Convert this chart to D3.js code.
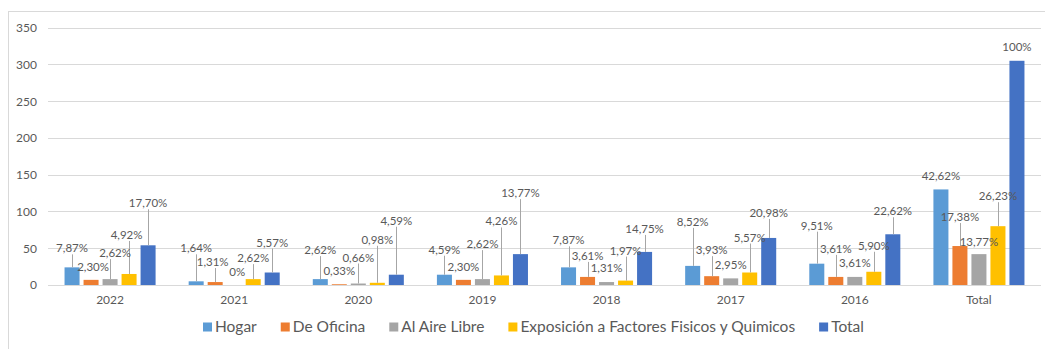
<!DOCTYPE html>
<html>
<head>
<meta charset="utf-8">
<script src="https://cdn.jsdelivr.net/npm/d3@7"></script>
<style>
  html, body { margin: 0; padding: 0; background: #ffffff; }
  svg { display: block; font-family: Lato, "Liberation Sans", sans-serif; }
</style>
</head>
<body>
<svg id="chart" width="1045" height="349"></svg>
<script>
// Accident counts per year and category; the last column is the overall total.
const categories = ["2022", "2021", "2020", "2019", "2018", "2017", "2016", "Total"];
const seriesNames = ["Hogar", "De Oficina", "Al Aire Libre", "Exposición a Factores Fisicos y Quimicos", "Total"];
const hogar       = [24, 5, 8, 14, 24, 26, 29, 130];
const deOficina   = [7, 4, 1, 7, 11, 12, 11, 53];
const alAireLibre = [8, 0, 2, 8, 4, 9, 11, 42];
const exposicion  = [15, 8, 3, 13, 6, 17, 18, 80];
const totalSerie  = [54, 17, 14, 42, 45, 64, 69, 305];
const yTicks = [0, 50, 100, 150, 200, 250, 300, 350];

const seriesValues = [hogar, deOficina, alAireLibre, exposicion, totalSerie];
const colors = ["#5b9bd5", "#ed7d31", "#a5a5a5", "#ffc000", "#4472c4"];

// Callout placement: how far (px) each label sits above its bar, per category/series
const calloutLift = [
  [19, 13, 26, 39, 42],
  [33, 20, 13, 21, 30],
  [29, 13, 26, 43, 54],
  [25, 13, 35, 54, 61],
  [27, 21, 14, 30, 23],
  [44, 26, 13, 35, 25],
  [38, 28, 14, 26, 23],
  [13, 29, 12, 30, 14]
];
// horizontal nudges (px) for a few crowded callouts
const calloutDx = [[0, 2, 5, -2.5, 0], [0, -2.5, 3, 0, 0]];

const grandTotal = totalSerie[totalSerie.length - 1];
function pctLabel(v) {
  const p = v / grandTotal * 100;
  if (p === 0 || p === 100) return p + "%";
  return p.toFixed(2).replace(".", ",") + "%";
}

const svg = d3.select("#chart");
const textColor = "#595959";
const fontStack = "Lato, 'Liberation Sans', sans-serif";

// chart frame
svg.append("rect")
  .attr("x", 8.5).attr("y", 11.5)
  .attr("width", 1045).attr("height", 345)
  .attr("fill", "none").attr("stroke", "#d9d9d9");

const plot = { left: 48, right: 1041, top: 27.7, bottom: 285 };

const y = d3.scaleLinear().domain([0, 350]).range([plot.bottom, plot.top]);
const x0 = d3.scaleBand().domain(categories).range([plot.left, plot.right]).padding(0);
const x1 = d3.scaleBand().domain(d3.range(seriesNames.length))
  .range([0, x0.bandwidth()]).paddingInner(0.21).paddingOuter(0.87);

// gridlines
svg.append("g").selectAll("line").data(yTicks).join("line")
  .attr("x1", plot.left).attr("x2", plot.right)
  .attr("y1", d => Math.round(y(d)) + 0.5).attr("y2", d => Math.round(y(d)) + 0.5)
  .attr("stroke", "#d9d9d9").attr("stroke-width", 1);

// y axis labels
const yAxis = svg.append("g").attr("transform", `translate(${plot.left - 6},0)`)
  .call(d3.axisLeft(y).tickValues(yTicks).tickSize(0).tickPadding(5));
yAxis.select(".domain").remove();
yAxis.selectAll("text").attr("fill", textColor).style("font-size", "12px")
  .style("font-family", fontStack);

// x axis labels
const xAxis = svg.append("g").attr("transform", `translate(0,${plot.bottom})`)
  .call(d3.axisBottom(x0).tickSize(0).tickPadding(10));
xAxis.select(".domain").remove();
xAxis.selectAll("text").attr("fill", textColor).style("font-size", "12px")
  .style("font-family", fontStack);

// bars, leader lines and labels
const cells = [];
categories.forEach((c, ci) => {
  seriesValues.forEach((vals, si) => {
    cells.push({ cat: c, ci, si, v: vals[ci] });
  });
});

svg.append("g").selectAll("rect").data(cells).join("rect")
  .attr("x", d => x0(d.cat) + x1(d.si))
  .attr("y", d => y(d.v))
  .attr("width", x1.bandwidth())
  .attr("height", d => y(0) - y(d.v))
  .attr("fill", d => colors[d.si]);

function cx(d) { return x0(d.cat) + x1(d.si) + x1.bandwidth() / 2; }
function labelY(d) { return y(d.v) - calloutLift[d.ci][d.si]; }
function labelDx(d) { return (calloutDx[d.ci] || [])[d.si] || 0; }

svg.append("g").selectAll("line")
  .data(cells.filter(d => calloutLift[d.ci][d.si] > 16))
  .join("line")
  .attr("x1", d => Math.round(cx(d)) + 0.5).attr("x2", d => Math.round(cx(d)) + 0.5)
  .attr("y1", d => labelY(d) + 6).attr("y2", d => y(d.v))
  .attr("stroke", "#a6a6a6").attr("stroke-width", 1);

svg.append("g").selectAll("text").data(cells).join("text")
  .attr("x", d => cx(d) + labelDx(d))
  .attr("y", d => labelY(d))
  .attr("dy", "0.35em")
  .attr("text-anchor", "middle")
  .attr("fill", textColor)
  .style("font-size", "11.5px")
  .text(d => pctLabel(d.v));

// legend, laid out left to right
const legend = svg.append("g").attr("transform", "translate(203,327)");
let lx = 0;
seriesNames.forEach((name, i) => {
  const item = legend.append("g").attr("transform", `translate(${lx},0)`);
  item.append("rect").attr("x", 0).attr("y", -4.5).attr("width", 9).attr("height", 9)
    .attr("fill", colors[i]);
  const t = item.append("text").attr("x", 12).attr("y", 0).attr("dy", "0.35em")
    .attr("fill", textColor).style("font-size", "15.5px").text(name);
  lx += 12 + t.node().getComputedTextLength() + 24;
});
</script>
</body>
</html>
